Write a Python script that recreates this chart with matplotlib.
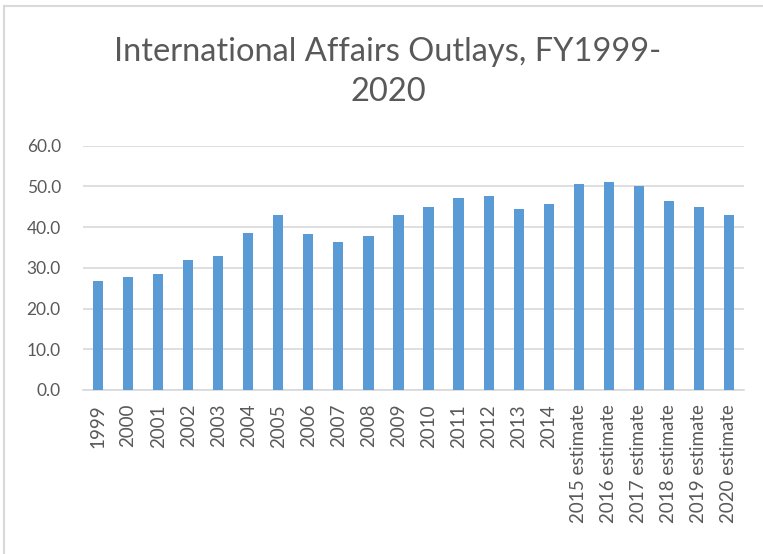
import matplotlib
matplotlib.use("Agg")
import matplotlib.pyplot as plt
from matplotlib.lines import Line2D

# outlays, billions of dollars
years = ["1999", "2000", "2001", "2002", "2003", "2004", "2005", "2006",
         "2007", "2008", "2009", "2010", "2011", "2012", "2013", "2014",
         "2015 estimate", "2016 estimate", "2017 estimate", "2018 estimate",
         "2019 estimate", "2020 estimate"]
outlays = [26.7, 27.7, 28.6, 32.0, 32.9, 38.6, 42.9, 38.2, 36.3, 37.7, 42.9,
           44.9, 47.2, 47.7, 44.4, 45.8, 50.6, 51.1, 50.1, 46.3, 44.9, 42.9]
yticks = [0, 10, 20, 30, 40, 50, 60]

plt.rcParams['font.family'] = ['Lato', 'DejaVu Sans']
txt = '#595959'

fig = plt.figure(figsize=(7.63, 5.54), dpi=100)
ax = fig.add_axes([83/763, (554-390)/554, (744-83)/763, (390-145.7)/554])

x = range(len(years))
ax.bar(x, outlays, width=0.34, color='#5B9BD5', zorder=3)

ax.set_ylim(0, 60)
ax.set_xlim(-0.5, len(years) - 0.5)
ax.set_yticks(yticks)
ax.set_yticklabels(["%.1f" % v for v in yticks], color=txt, fontsize=12.5)
ax.set_xticks(list(x))
ax.set_xticklabels(years, rotation=90, color=txt, fontsize=13.5)
ax.tick_params(axis='both', length=0)
ax.tick_params(axis='y', pad=16)
ax.tick_params(axis='x', pad=10)
ax.grid(axis='y', color='#d9d9d9', linewidth=1.2, zorder=0)
for s in ['top', 'right', 'left']:
    ax.spines[s].set_visible(False)
ax.spines['bottom'].set_color('#d9d9d9')
ax.spines['bottom'].set_linewidth(1.2)

fig.text(388/763, 1 - 72/554, "International Affairs Outlays, FY1999-\n2020",
         ha='center', va='center', fontsize=23.5, color=txt, linespacing=1.45)

# chart frame (only top and left edges show in the screenshot)
fig.lines.append(Line2D([4/763, 4/763], [0, 1 - 6/554], transform=fig.transFigure,
                        color='#d9d9d9', linewidth=1.5))
fig.lines.append(Line2D([4/763, 1], [1 - 6/554, 1 - 6/554], transform=fig.transFigure,
                        color='#d9d9d9', linewidth=1.5))

fig.savefig("out.png", dpi=100)
